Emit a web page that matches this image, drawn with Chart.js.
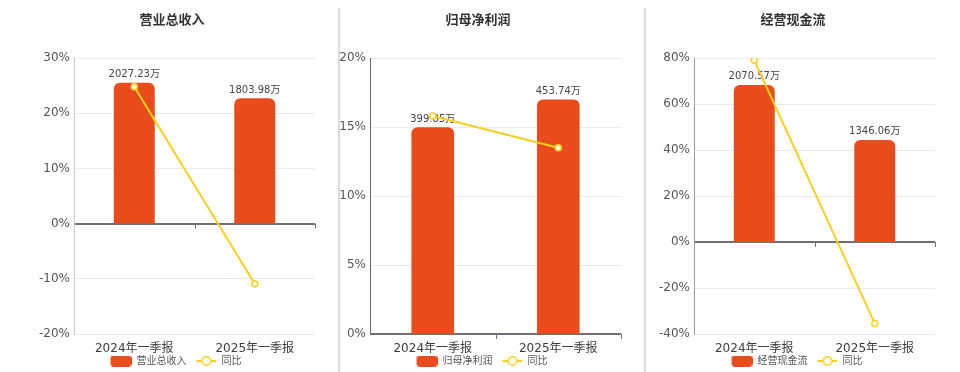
<!DOCTYPE html>
<html>
<head>
<meta charset="utf-8">
<script src="https://cdn.jsdelivr.net/npm/chart.js@4/dist/chart.umd.min.js"></script>
<style>
  html, body { margin: 0; padding: 0; background: #fff; width: 960px; height: 372px; overflow: hidden; }
  .wrap { position: absolute; top: 0; height: 372px; }
  .sep { position: absolute; top: 8px; width: 2px; height: 364px; background: #dcdcdc; }
</style>
</head>
<body>
<div class="sep" style="left:338px"></div>
<div class="sep" style="left:644px"></div>
<div class="wrap" style="left:0px;width:340px"><canvas id="c1"></canvas></div>
<div class="wrap" style="left:329px;width:302px"><canvas id="c2"></canvas></div>
<div class="wrap" style="left:645px;width:300px"><canvas id="c3"></canvas></div>
<script>
// ---- data ----
const categories = ['2024年一季报', '2025年一季报'];

const revenueTitle = '营业总收入';
const revenueValues = [2027.23, 1803.98];   // 万
const revenueYoY = [24.8, -10.9];           // %
const revenueTicks = [-20, -10, 0, 10, 20, 30];

const profitTitle = '归母净利润';
const profitValues = [399.85, 453.74];
const profitYoY = [15.8, 13.5];
const profitTicks = [0, 5, 10, 15, 20];

const cashTitle = '经营现金流';
const cashValues = [2070.57, 1346.06];
const cashYoY = [79.0, -35.4];
const cashTicks = [-40, -20, 0, 20, 40, 60, 80];

const yoyLabel = '同比';

// ---- style ----
const BAR = '#E84C1D';
const LINE = '#F7D01E';
const GRID = '#E6EBF5';
const ZERO = '#6E7079';
const FONT = "'DejaVu Sans', 'Noto Sans CJK SC', sans-serif";

// legend icons (29px wide slot, visible part at the right)
function barIcon() {
  const c = document.createElement('canvas');
  c.width = 29; c.height = 11;
  const g = c.getContext('2d');
  g.fillStyle = BAR;
  g.beginPath();
  g.roundRect(8, 0, 21, 11, 3);
  g.fill();
  return c;
}
function lineIcon() {
  const c = document.createElement('canvas');
  c.width = 29; c.height = 12;
  const g = c.getContext('2d');
  g.strokeStyle = LINE; g.lineWidth = 2;
  g.beginPath(); g.moveTo(9, 6); g.lineTo(29, 6); g.stroke();
  g.fillStyle = '#fff'; g.lineWidth = 1.6;
  g.beginPath(); g.arc(19, 6, 4.3, 0, Math.PI * 2); g.fill(); g.stroke();
  return c;
}
const BAR_ICON = barIcon();
const LINE_ICON = lineIcon();

const barLabelPlugin = {
  id: 'barLabels',
  afterDatasetDraw(chart, args) {
    if (args.meta.type !== 'bar') return;
    const ctx = chart.ctx;
    const ds = chart.data.datasets[args.index];
    ctx.save();
    ctx.font = '10px ' + FONT;
    ctx.fillStyle = '#444';
    ctx.textAlign = 'center';
    ctx.textBaseline = 'alphabetic';
    args.meta.data.forEach((el, i) => {
      ctx.fillText(ds.data[i].toFixed(2) + '万', el.x, el.y - 5.5);
    });
    ctx.restore();
  }
};

const axisTickPlugin = {
  id: 'zeroTicks',
  afterDraw(chart) {
    const xs = chart.scales.x, ys = chart.scales.y;
    const y0 = ys.getPixelForValue(0);
    const n = xs.getLabels().length;
    const ctx = chart.ctx;
    ctx.save();
    ctx.strokeStyle = ZERO;
    ctx.lineWidth = 1;
    for (let i = 1; i <= n; i++) {
      const x = Math.round(xs.getPixelForValue(i - 0.5)) + 0.5;
      ctx.beginPath(); ctx.moveTo(x, y0); ctx.lineTo(x, y0 + 5); ctx.stroke();
    }
    ctx.restore();
  }
};

function makeChart(id, title, values, yoy, ticks, barMin, barMax, padL, padR, yWidth, yBorder) {
  const pMin = ticks[0], pMax = ticks[ticks.length - 1];
  return new Chart(document.getElementById(id), {
    data: {
      labels: categories,
      datasets: [
        {
          type: 'line', label: yoyLabel, data: yoy, yAxisID: 'y', order: 0,
          borderColor: LINE, borderWidth: 2, backgroundColor: '#fff',
          pointRadius: 3, pointBorderWidth: 1.5, pointBorderColor: LINE, pointBackgroundColor: '#fff',
          tension: 0
        },
        {
          type: 'bar', label: title, data: values, yAxisID: 'yb', order: 1,
          backgroundColor: BAR, borderWidth: 0,
          borderRadius: { topLeft: 6, topRight: 6, bottomLeft: 0, bottomRight: 0 },
          borderSkipped: 'start',
          barPercentage: 0.34, categoryPercentage: 1
        }
      ]
    },
    options: {
      responsive: true, maintainAspectRatio: false, animation: false,
      layout: { padding: { left: padL, right: padR, top: 0, bottom: 0 } },
      plugins: {
        title: {
          display: true, text: title, color: '#333',
          font: { family: FONT, size: 13, weight: 'bold' },
          padding: { top: 13, bottom: 29.4 }
        },
        legend: {
          position: 'bottom', maxHeight: 17,
          labels: {
            usePointStyle: true, pointStyleWidth: 29, boxHeight: 10,
            padding: 1, color: '#555',
            font: { family: FONT, size: 10 },
            generateLabels(chart) {
              return [
                { text: title, pointStyle: BAR_ICON, fillStyle: BAR, strokeStyle: BAR, lineWidth: 0, datasetIndex: 1, fontColor: '#555' },
                { text: yoyLabel, pointStyle: LINE_ICON, fillStyle: '#fff', strokeStyle: LINE, lineWidth: 0, datasetIndex: 0, fontColor: '#555' }
              ];
            }
          }
        },
        tooltip: { enabled: false }
      },
      scales: {
        x: {
          grid: { display: false, drawTicks: false },
          border: { display: false },
          ticks: { color: '#3d3d3d', font: { family: FONT, size: 12 }, padding: 7.5, maxRotation: 0 },
          afterFit(s) { s.height = 21; }
        },
        y: {
          position: 'left', min: pMin, max: pMax,
          afterBuildTicks(s) { s.ticks = ticks.map(v => ({ value: v })); },
          grid: {
            drawTicks: false,
            color: c => (c.tick && c.tick.value === 0) ? ZERO : GRID,
            lineWidth: c => (c.tick && c.tick.value === 0) ? 2 : 1
          },
          border: { display: true, color: yBorder, width: 1 },
          ticks: { color: '#555', font: { family: FONT, size: 12 }, padding: 4, callback: v => v + '%' },
          afterFit(s) { s.width = yWidth; }
        },
        yb: { display: false, min: barMin, max: barMax }
      }
    },
    plugins: [barLabelPlugin, axisTickPlugin]
  });
}

makeChart('c1', revenueTitle, revenueValues, revenueYoY, revenueTicks, -1588, 2382, 29, 25, 45, '#c8cad0');
makeChart('c2', profitTitle, profitValues, profitYoY, profitTicks, 0, 534, 6, 10, 35, '#666');
makeChart('c3', cashTitle, cashValues, cashYoY, cashTicks, -1213, 2426, 6, 10, 43, '#9a9ca3');
</script>
</body>
</html>
